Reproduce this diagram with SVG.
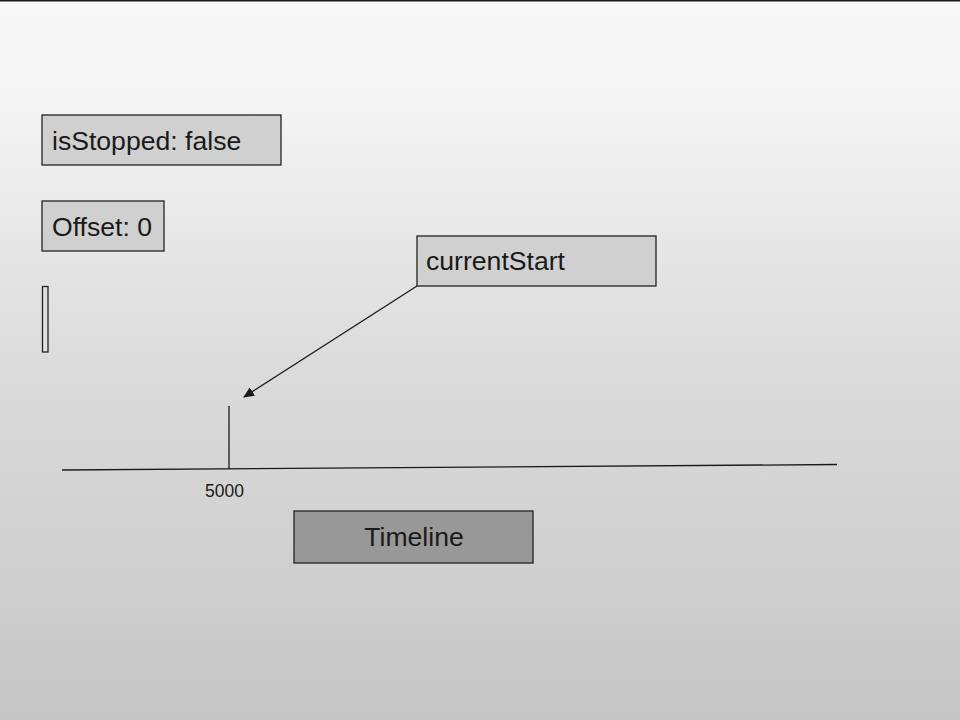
<svg xmlns="http://www.w3.org/2000/svg" width="960" height="720" viewBox="0 0 960 720">
<style>
.box{fill:#d0d0d0;stroke:#222;stroke-width:1.3}
.t{font-family:"Liberation Sans",Arial,sans-serif;font-size:26.6px;fill:#1a1a1a}
.ln{stroke:#1a1a1a;stroke-width:1.3;fill:none}
</style>
<defs>
<linearGradient id="bg" x1="0" y1="0" x2="0" y2="1">
<stop offset="0" stop-color="#f8f8f8"/>
<stop offset="0.1" stop-color="#f7f7f7"/>
<stop offset="0.5" stop-color="#dcdcdc"/>
<stop offset="1" stop-color="#c6c6c6"/>
</linearGradient>
<marker id="ah" markerWidth="12" markerHeight="10" refX="10" refY="5" orient="auto" markerUnits="userSpaceOnUse">
<path d="M0,0 L11,5 L0,10 Z" fill="#1a1a1a"/>
</marker>
</defs>
<rect width="960" height="720" fill="url(#bg)"/>
<line x1="0" y1="0.8" x2="960" y2="0.8" stroke="#1a1a1a" stroke-width="1.6"/>
<g id="isStopped">
<rect class="box" x="42" y="115" width="239" height="50"/>
<text class="t" x="52" y="150">isStopped: false</text>
</g>
<g id="offset">
<rect class="box" x="42" y="201" width="122" height="50"/>
<text class="t" x="52" y="236">Offset: 0</text>
</g>
<g id="bar">
<rect x="42.5" y="286.5" width="5.5" height="65.5" fill="#e0e0e0" stroke="#222" stroke-width="1.3"/>
</g>
<g id="currentStart">
<rect class="box" x="417" y="236" width="239" height="50"/>
<text class="t" x="426" y="270">currentStart</text>
</g>
<g id="timeline">
<rect x="294" y="511" width="239" height="52" fill="#989898" stroke="#222" stroke-width="1.3"/>
<text class="t" x="414" y="546" text-anchor="middle">Timeline</text>
</g>
<g id="axis">
<line class="ln" x1="62" y1="470" x2="837" y2="464.5"/>
<line class="ln" x1="229" y1="406" x2="229" y2="469"/>
<text x="205" y="497" font-family="Liberation Sans,Arial,sans-serif" font-size="17.5" fill="#1a1a1a">5000</text>
</g>
<g id="connectors">
<line class="ln" x1="417" y1="286" x2="244" y2="397" marker-end="url(#ah)"/>
</g>
</svg>
